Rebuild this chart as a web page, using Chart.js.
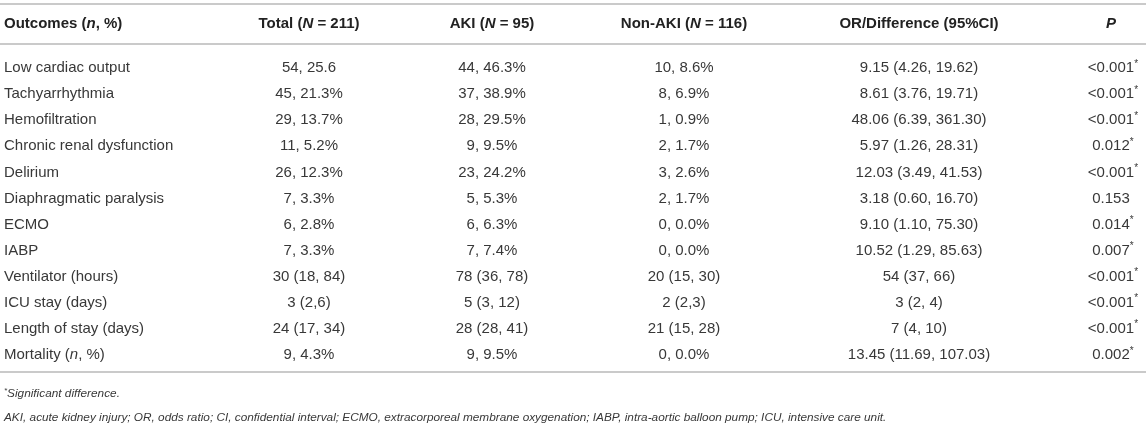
<!DOCTYPE html>
<html>
<head>
<meta charset="utf-8">
<script src="https://cdn.jsdelivr.net/npm/chart.js@4/dist/chart.umd.min.js"></script>
<style>
  html, body { margin: 0; padding: 0; background: #fff; }
  #tabla { display: block; }
</style>
</head>
<body>
<canvas id="tabla" width="1146" height="428"></canvas>
<script>
// Datos de la tabla ( _x_ = cursiva, * final = superíndice )
const headers = ["Outcomes (_n_, %)", "Total (_N_ = 211)", "AKI (_N_ = 95)", "Non-AKI (_N_ = 116)", "OR/Difference (95%CI)", "_P_"];

const outcomes = [
  "Low cardiac output", "Tachyarrhythmia", "Hemofiltration", "Chronic renal dysfunction",
  "Delirium", "Diaphragmatic paralysis", "ECMO", "IABP", "Ventilator (hours)",
  "ICU stay (days)", "Length of stay (days)", "Mortality (_n_, %)"
];

const total = ["54, 25.6", "45, 21.3%", "29, 13.7%", "11, 5.2%", "26, 12.3%", "7, 3.3%",
  "6, 2.8%", "7, 3.3%", "30 (18, 84)", "3 (2,6)", "24 (17, 34)", "9, 4.3%"];

const aki = ["44, 46.3%", "37, 38.9%", "28, 29.5%", "9, 9.5%", "23, 24.2%", "5, 5.3%",
  "6, 6.3%", "7, 7.4%", "78 (36, 78)", "5 (3, 12)", "28 (28, 41)", "9, 9.5%"];

const nonAki = ["10, 8.6%", "8, 6.9%", "1, 0.9%", "2, 1.7%", "3, 2.6%", "2, 1.7%",
  "0, 0.0%", "0, 0.0%", "20 (15, 30)", "2 (2,3)", "21 (15, 28)", "0, 0.0%"];

const orDiff = ["9.15 (4.26, 19.62)", "8.61 (3.76, 19.71)", "48.06 (6.39, 361.30)", "5.97 (1.26, 28.31)",
  "12.03 (3.49, 41.53)", "3.18 (0.60, 16.70)", "9.10 (1.10, 75.30)", "10.52 (1.29, 85.63)",
  "54 (37, 66)", "3 (2, 4)", "7 (4, 10)", "13.45 (11.69, 107.03)"];

const pValues = ["<0.001*", "<0.001*", "<0.001*", "0.012*", "<0.001*", "0.153",
  "0.014*", "0.007*", "<0.001*", "<0.001*", "<0.001*", "0.002*"];

const footnotes = [
  "_*Significant difference._",
  "_AKI, acute kidney injury; OR, odds ratio; CI, confidential interval; ECMO, extracorporeal membrane oxygenation; IABP, intra-aortic balloon pump; ICU, intensive care unit._"
];

// posiciones de columna en unidades del eje x (0..1146)
const colX = [4, 309, 492, 684, 919, 1111];
const FUENTE = "'Liberation Sans', Arial, Helvetica, sans-serif";

function partes(texto) {
  // separa en trozos normales / cursiva, y el asterisco final como superíndice
  const res = [];
  let sup = false;
  if (texto.endsWith("*") || texto.endsWith("*_")) {
    sup = true;
    texto = texto.replace(/\*(_?)$/, "$1");
  }
  const trozos = texto.split("_");
  trozos.forEach((t, i) => {
    if (!t) return;
    if (t.startsWith("*")) {
      res.push({ t: "*", it: i % 2 === 1, sup: true });
      t = t.slice(1);
    }
    if (t) res.push({ t, it: i % 2 === 1, sup: false });
  });
  if (sup) res.push({ t: "*", it: false, sup: true, extra: true });
  return res;
}

function fuente(p, size, bold) {
  const s = p.sup ? Math.round(size * 0.65) : size;
  return (p.it ? "italic " : "") + (bold ? "bold " : "") + s + "px " + FUENTE;
}

function dibujaTexto(ctx, texto, x, y, opts) {
  const size = opts.size || 15;
  const ps = partes(texto);
  let anchoSinExtra = 0;
  ps.forEach(p => {
    ctx.font = fuente(p, size, opts.bold);
    p.w = ctx.measureText(p.t).width;
    if (!p.extra) anchoSinExtra += p.w;
  });
  let cx = x;
  if (opts.align === "center") cx = x - anchoSinExtra / 2;
  ctx.fillStyle = opts.color || "#383838";
  ctx.textBaseline = "middle";
  ctx.textAlign = "left";
  ps.forEach(p => {
    ctx.font = fuente(p, size, opts.bold);
    ctx.fillText(p.t, cx, p.sup ? y - size * 0.28 : y);
    cx += p.w;
  });
}

const tablaPlugin = {
  id: "tabla",
  beforeDraw(chart) {
    const ctx = chart.ctx;
    ctx.save();
    ctx.fillStyle = "#fff";
    ctx.fillRect(0, 0, chart.width, chart.height);
    ctx.restore();
  },
  afterDraw(chart) {
    const ctx = chart.ctx;
    const xs = chart.scales.x, ys = chart.scales.y;
    const area = chart.chartArea;
    ctx.save();

    // líneas horizontales
    ctx.strokeStyle = "#b8b8b8";
    ctx.lineWidth = 1.5;
    [area.top - 50, area.top - 10, area.bottom + 5].forEach(y => {
      ctx.beginPath();
      ctx.moveTo(0, y);
      ctx.lineTo(chart.width, y);
      ctx.stroke();
    });

    // cabecera
    const yHead = area.top - 30;
    headers.forEach((h, c) => {
      dibujaTexto(ctx, h, xs.getPixelForValue(colX[c]), yHead,
        { bold: true, align: c === 0 ? "left" : "center", color: "#222" });
    });

    // filas
    const columnas = [outcomes, total, aki, nonAki, orDiff, pValues];
    outcomes.forEach((_, i) => {
      const y = ys.getPixelForValue(i) + 1;
      columnas.forEach((col, c) => {
        dibujaTexto(ctx, col[i], xs.getPixelForValue(colX[c]), y,
          { align: c === 0 ? "left" : "center" });
      });
    });

    // notas
    footnotes.forEach((f, i) => {
      dibujaTexto(ctx, f, xs.getPixelForValue(colX[0]), area.bottom + 27 + i * 24,
        { size: 11.8, align: "left" });
    });
    ctx.restore();
  }
};

new Chart(document.getElementById("tabla"), {
  type: "bar",
  data: {
    labels: outcomes,
    datasets: [{ data: outcomes.map(() => null) }]
  },
  options: {
    indexAxis: "y",
    responsive: false,
    animation: false,
    events: [],
    layout: { padding: { top: 54, bottom: 61, left: 0, right: 0 } },
    plugins: { legend: { display: false }, tooltip: { enabled: false } },
    scales: {
      x: { type: "linear", min: 0, max: 1146, display: false },
      y: { type: "category", display: false, offset: true }
    }
  },
  plugins: [tablaPlugin]
});
</script>
</body>
</html>
